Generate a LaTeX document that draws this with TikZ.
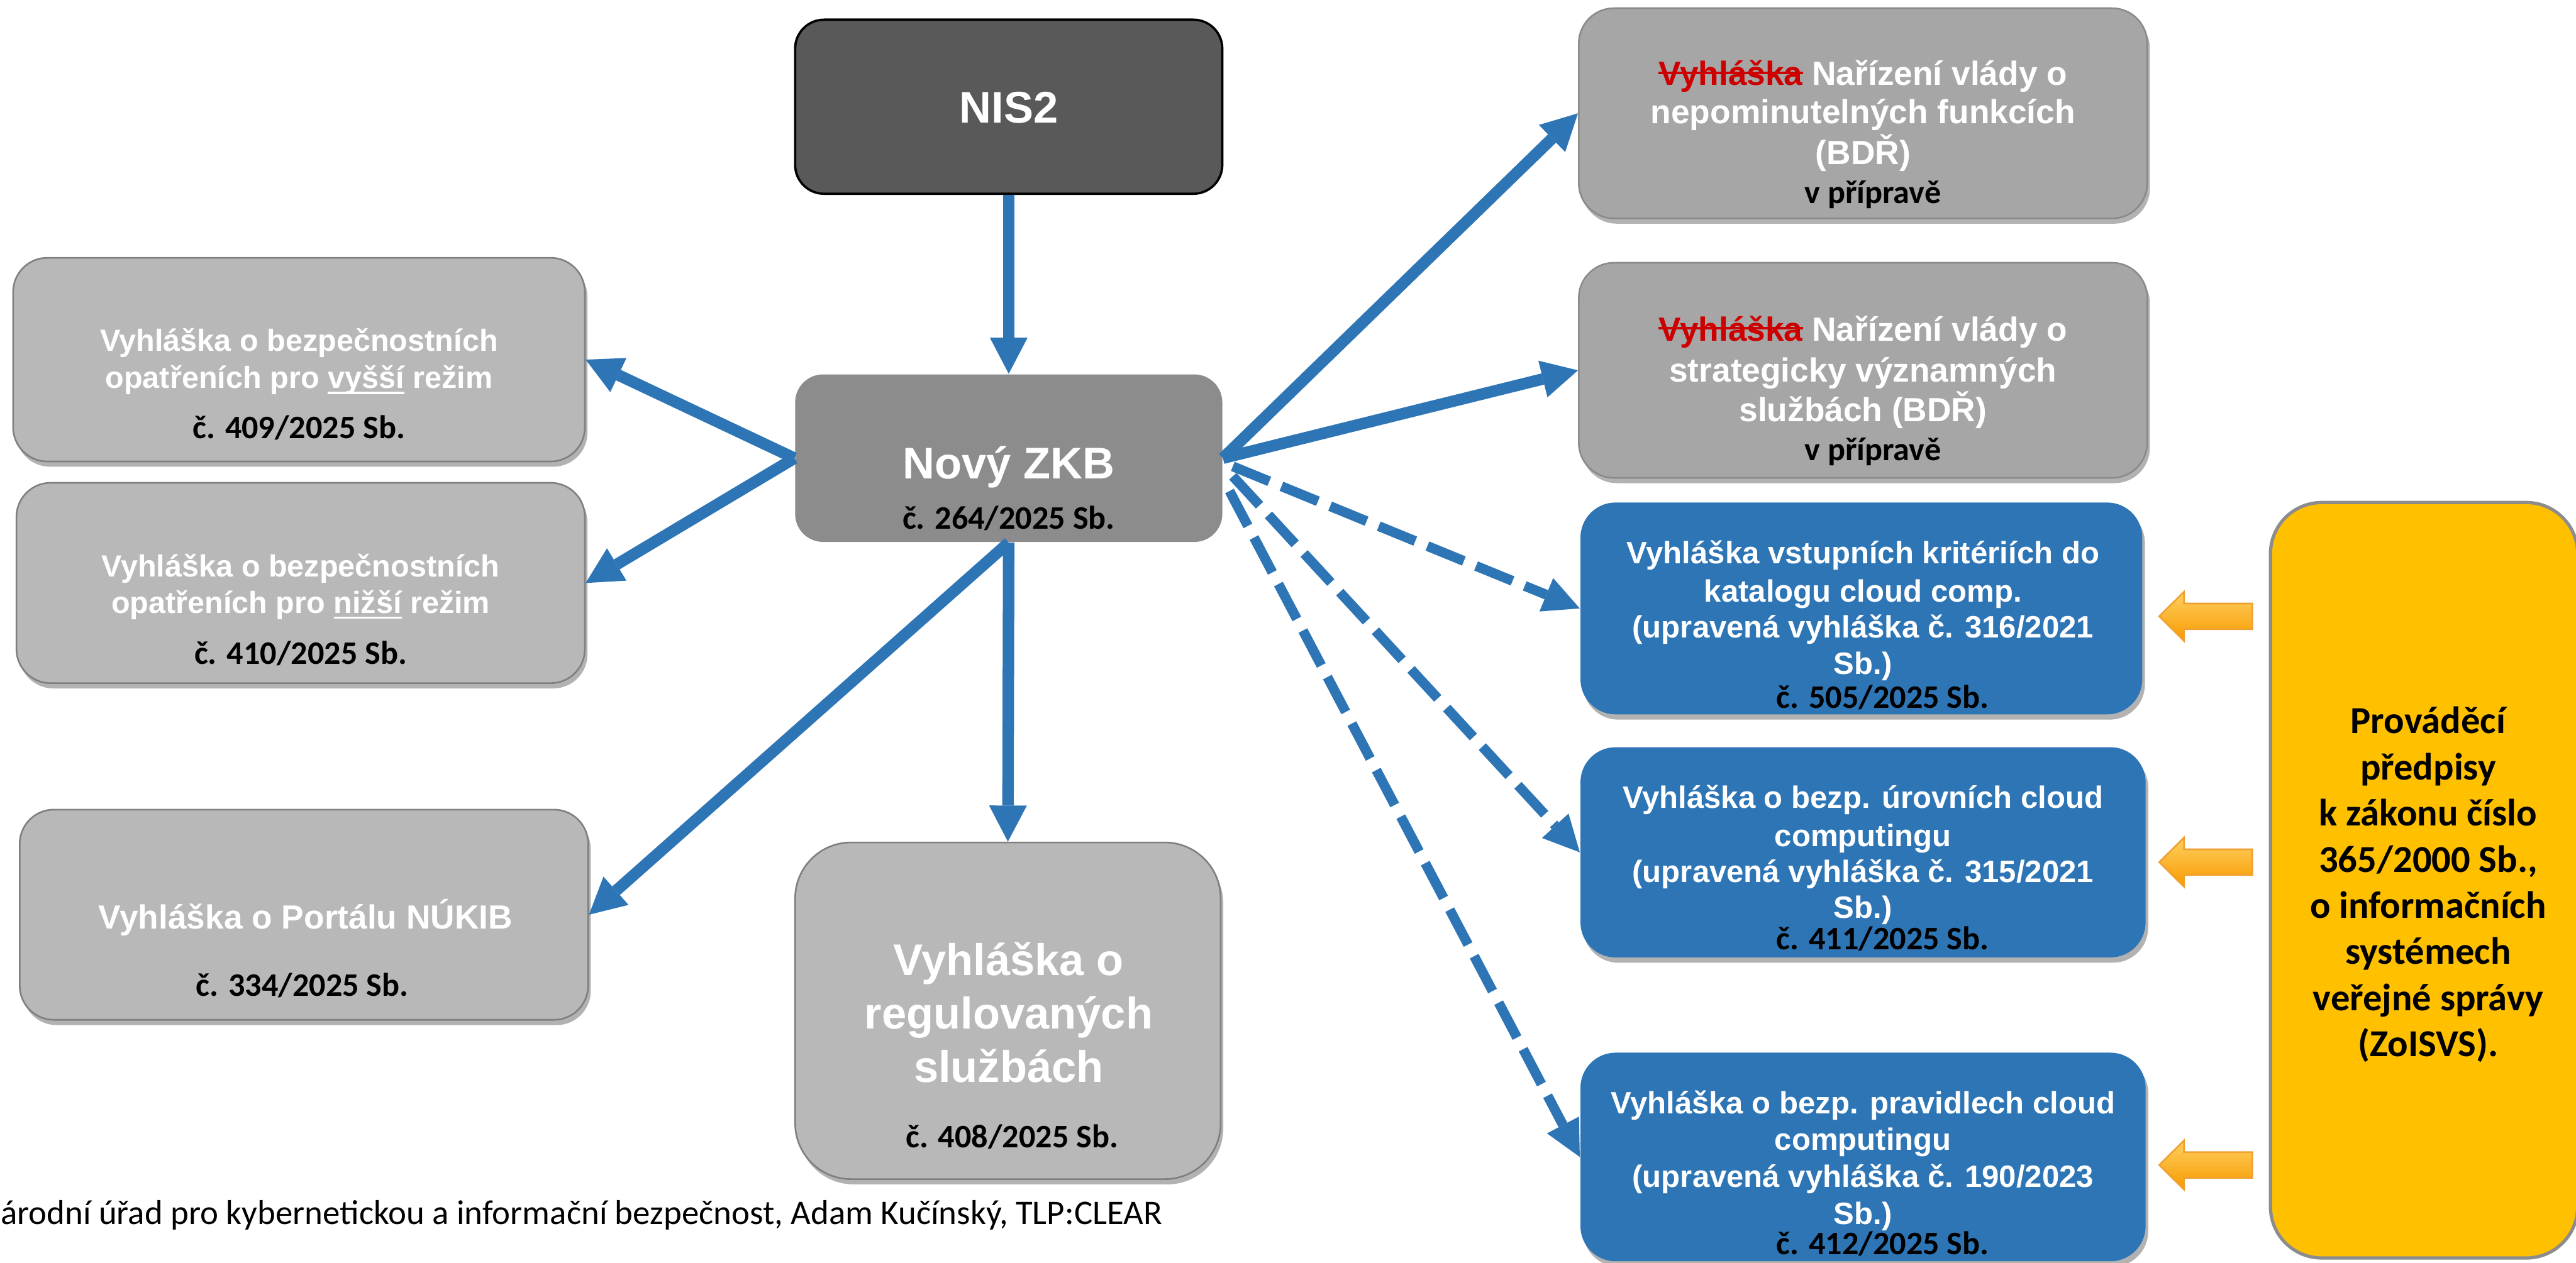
\documentclass[tikz,border=0pt]{standalone}
\usepackage{fontspec}
\setmainfont{Liberation Sans}
\newfontfamily\calibri{Carlito}
\usetikzlibrary{arrows.meta,shadows,calc}
\definecolor{nisgray}{HTML}{595959}
\definecolor{zkbgray}{HTML}{8C8C8C}
\definecolor{lgray}{HTML}{B8B8B8}
\definecolor{lborder}{HTML}{7F7F7F}
\definecolor{rgray}{HTML}{A6A6A6}
\definecolor{rborder}{HTML}{8A8A8A}
\definecolor{cblue}{HTML}{2E75B6}
\definecolor{cyellow}{HTML}{FFC000}
\definecolor{yborder}{HTML}{8C8C8C}
\definecolor{sred}{HTML}{CC0000}
\definecolor{otop}{HTML}{FFD060}
\definecolor{obot}{HTML}{F79A00}
\definecolor{oline}{HTML}{F0A030}
\newcommand\myul[1]{\sbox0{#1}\rlap{\rule[-0.19em]{\wd0}{0.07em}}\usebox0}
\newcommand\mystrike[1]{\sbox0{#1}\rlap{\usebox0}\rule[0.33em]{\wd0}{0.08em}}
\begin{document}
\begin{tikzpicture}[x=0.5pt,y=-0.5pt,
  shadowed/.style={drop shadow={shadow xshift=0.8pt,shadow yshift=-1.6pt,opacity=0.3,fill=black}},
  nisbox/.style={draw=black,line width=0.7pt,fill=nisgray,rounded corners=8.8pt,inner sep=0pt},
  zkbbox/.style={fill=zkbgray,rounded corners=8.5pt,inner sep=0pt},
  lbox/.style={shadowed,draw=lborder,line width=0.5pt,fill=lgray,rounded corners=#1,inner sep=0pt},
  lbox/.default=10.4pt,
  rbox/.style={shadowed,draw=rborder,line width=0.5pt,fill=rgray,rounded corners=10.7pt,inner sep=0pt},
  bbox/.style={shadowed,fill=cblue,rounded corners=10.7pt,inner sep=0pt},
  ybox/.style={draw=yborder,line width=1pt,fill=cyellow,rounded corners=15.6pt,inner sep=0pt},
  numtxt/.style={anchor=base,inner sep=0pt,text=black,font=\calibri\bfseries\fontsize{10}{12}\selectfont},
  ltxt/.style={anchor=base,inner sep=0pt,text=white,font=\bfseries\fontsize{9.3}{11}\selectfont},
  rtxt/.style={anchor=base,inner sep=0pt,text=white,font=\bfseries\fontsize{10.2}{12}\selectfont},
  btxt/.style={anchor=base,inner sep=0pt,text=white,font=\bfseries\fontsize{9.4}{11}\selectfont},
  bigtxt/.style={anchor=base,inner sep=0pt,text=white,font=\bfseries\fontsize{13.5}{16}\selectfont},
  ytxt/.style={anchor=base,inner sep=0pt,text=black,font=\calibri\bfseries\fontsize{11.6}{14}\selectfont},
  foottxt/.style={anchor=base west,inner sep=0pt,text=black,font=\calibri\fontsize{10.5}{12}\selectfont},
  arr/.style={draw=cblue,line width=3.5pt,-{Triangle[width=11.5pt,length=11pt,line width=0pt]}},
  darr/.style={draw=cblue,line width=3pt,dash pattern=on 12pt off 4pt,-{Triangle[width=11pt,length=11pt,line width=0pt]}},
  oarr/.style={draw=oline,line width=0.5pt,top color=otop,bottom color=obot}
]
\useasboundingbox (0,0) rectangle (1568,769);
\fill[white] (0,0) rectangle (1568,769);

% boxes
\node[nisbox,minimum width=130pt,minimum height=53pt] (nis) at (614,65) {};
\node[zkbbox,minimum width=130pt,minimum height=51pt] (zkb) at (614,279) {};
\node[lbox,minimum width=174pt,minimum height=62pt] (l1) at (182,219) {};
\node[lbox,minimum width=173pt,minimum height=61pt] (l2) at (183,355) {};
\node[lbox,minimum width=173pt,minimum height=64pt] (l3) at (185,557) {};
\node[lbox=17pt,minimum width=129.5pt,minimum height=102.5pt] (reg) at (613.5,615.5) {};
\node[rbox,minimum width=173pt,minimum height=64pt] (r1) at (1134,69) {};
\node[rbox,minimum width=173pt,minimum height=65.5pt] (r2) at (1134,225.5) {};
\node[bbox,minimum width=171pt,minimum height=64.5pt] (b1) at (1133,370.5) {};
\node[bbox,minimum width=172pt,minimum height=64pt] (b2) at (1134,519) {};
\node[bbox,minimum width=172pt,minimum height=63.5pt] (b3) at (1134,704.5) {};
\node[ybox,minimum width=93.5pt,minimum height=230pt] (yb) at (1475.5,536) {};

% texts
\node[bigtxt] (nist) at (614,75) {NIS2};
\node[bigtxt] (zkbt) at (614,291.5) {Nový ZKB};
\node[numtxt] (zkbn) at (614,322) {č. 264/2025 Sb.};

\node[ltxt] (l1a) at (182,213.9) {Vyhláška o bezpečnostních};
\node[ltxt] (l1b) at (182,236.4) {opatřeních pro \myul{vyšší} režim};
\node[numtxt] (l1n) at (182,267.1) {č. 409/2025 Sb.};

\node[ltxt] (l2a) at (183,351.1) {Vyhláška o bezpečnostních};
\node[ltxt] (l2b) at (183,373.3) {opatřeních pro \myul{nižší} režim};
\node[numtxt] (l2n) at (183,404.4) {č. 410/2025 Sb.};

\node[rtxt] (l3a) at (186,565.7) {Vyhláška o Portálu NÚKIB};
\node[numtxt] (l3n) at (184,606.7) {č. 334/2025 Sb.};

\node[bigtxt] (rega) at (614,594) {Vyhláška o};
\node[bigtxt] (regb) at (614,626.5) {regulovaných};
\node[bigtxt] (regc) at (614,659) {službách};
\node[numtxt] (regn) at (616,699) {č. 408/2025 Sb.};

\node[rtxt] (r1a) at (1134,51.9) {\textcolor{sred}{\mystrike{Vyhláška}} Nařízení vlády o};
\node[rtxt] (r1b) at (1134,75.3) {nepominutelných funkcích};
\node[rtxt] (r1c) at (1134,100) {(BDŘ)};
\node[numtxt] (r1n) at (1140,124) {v přípravě};

\node[rtxt] (r2a) at (1134,207.5) {\textcolor{sred}{\mystrike{Vyhláška}} Nařízení vlády o};
\node[rtxt] (r2b) at (1134,232.6) {strategicky významných};
\node[rtxt] (r2c) at (1134,256.5) {službách (BDŘ)};
\node[numtxt] (r2n) at (1140,280.3) {v přípravě};

\node[btxt] (b1a) at (1134,343.3) {Vyhláška vstupních kritériích do};
\node[btxt] (b1b) at (1134,366.4) {katalogu cloud comp.};
\node[btxt] (b1c) at (1134,388.2) {(upravená vyhláška č. 316/2021};
\node[btxt] (b1d) at (1134,410.4) {Sb.)};
\node[numtxt] (b1n) at (1146,431.4) {č. 505/2025 Sb.};

\node[btxt] (b2a) at (1134,492.2) {Vyhláška o bezp. úrovních cloud};
\node[btxt] (b2b) at (1134,515.3) {computingu};
\node[btxt] (b2c) at (1134,537.2) {(upravená vyhláška č. 315/2021};
\node[btxt] (b2d) at (1134,559.1) {Sb.)};
\node[numtxt] (b2n) at (1146,578.3) {č. 411/2025 Sb.};

\node[btxt] (b3a) at (1134,678.1) {Vyhláška o bezp. pravidlech cloud};
\node[btxt] (b3b) at (1134,700.4) {computingu};
\node[btxt] (b3c) at (1134,723) {(upravená vyhláška č. 190/2023};
\node[btxt] (b3d) at (1134,745.4) {Sb.)};
\node[numtxt] (b3n) at (1146,764) {č. 412/2025 Sb.};

\foreach \t [count=\i] in {Prováděcí,předpisy,k zákonu číslo,{365/2000 Sb.,},o informačních,systémech,veřejné správy,(ZoISVS).}
  \node[ytxt] (y\i) at (1478,446.7+28.1*\i-28.1) {\t};

\node[foottxt] (foot) at (0,745.5) {árodní úřad pro kybernetickou a informační bezpečnost, Adam Kučínský, TLP:CLEAR};

% orange block arrows
\foreach \yy in {375.3,525,709.4}
  \draw[oarr] (1371,\yy-7.8) -- (1329.4,\yy-7.8) -- (1329.4,\yy-15) -- (1314.3,\yy) -- (1329.4,\yy+15) -- (1329.4,\yy+7.8) -- (1371,\yy+7.8) -- cycle;

% connectors
\draw[arr] (nis.south) -- (zkb.north);
\draw[arr] (zkb.west) -- (l1.east);
\draw[arr] (zkb.west) -- (l2.east);
\draw[arr] (zkb.south) -- (l3.east);
\draw[arr] (zkb.south) -- (reg.north);
\draw[arr] (zkb.east) -- (r1.west);
\draw[arr] (zkb.east) -- (r2.west);
\draw[darr] ($(zkb.east)+(6,5)$) -- (b1.west);
\draw[darr] ($(zkb.east)+(6,11)$) -- (b2.west);
\draw[darr] ($(zkb.east)+(4,20)$) -- (b3.west);
\end{tikzpicture}
\end{document}
